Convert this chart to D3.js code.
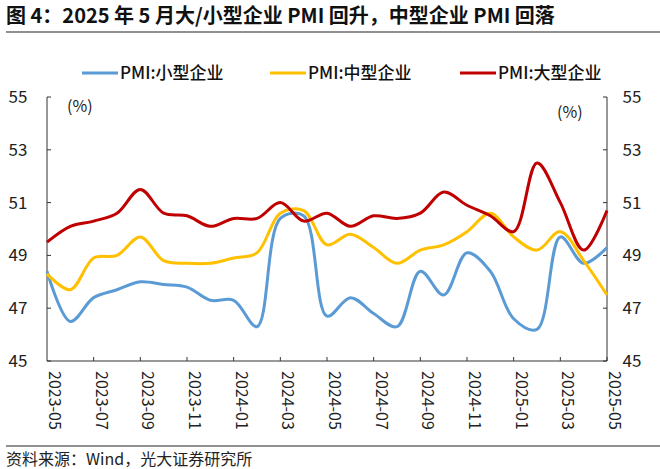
<!DOCTYPE html>
<html><head><meta charset="utf-8">
<script src="https://cdn.jsdelivr.net/npm/d3@7"></script>
<style>
body{margin:0;background:#fff;font-family:"Noto Sans CJK SC","Noto Sans",sans-serif;}
</style></head>
<body><div id="chart"></div>
<script>
const w = 660, h = 469;
const padL = 47, padR = 607, padT = 97, padB = 361;

const months = ["2023-05","2023-06","2023-07","2023-08","2023-09","2023-10","2023-11","2023-12",
"2024-01","2024-02","2024-03","2024-04","2024-05","2024-06","2024-07","2024-08","2024-09","2024-10",
"2024-11","2024-12","2025-01","2025-02","2025-03","2025-04","2025-05"];
const small = [48.4,46.5,47.4,47.7,48.0,47.9,47.8,47.3,47.3,46.3,50.4,50.5,46.7,47.4,46.8,46.3,48.4,47.5,49.1,48.4,46.6,46.2,49.7,48.7,49.3];
const medium = [48.3,47.7,48.9,49.0,49.7,48.8,48.7,48.7,48.9,49.1,50.6,50.7,49.4,49.8,49.3,48.7,49.2,49.4,49.9,50.6,49.7,49.2,49.9,48.8,47.5];
const large = [49.5,50.1,50.3,50.6,51.5,50.6,50.5,50.1,50.4,50.4,51.0,50.3,50.6,50.1,50.5,50.4,50.6,51.4,50.9,50.5,49.9,52.5,51.0,49.2,50.7];
const yTicks = [45,47,49,51,53,55];
const series = [
  {name:"PMI:小型企业", values:small, color:"#5b9bd5"},
  {name:"PMI:中型企业", values:medium, color:"#ffc000"},
  {name:"PMI:大型企业", values:large, color:"#c00000"}
];

const svg = d3.select("#chart").append("svg").attr("width",w).attr("height",h);

//Title
svg.append("text").attr("x",6).attr("y",23)
.style("font-size","20px").style("font-weight","bold").attr("fill","#111")
.text("图 4：2025 年 5 月大/小型企业 PMI 回升，中型企业 PMI 回落");
svg.append("line").attr("x1",6).attr("x2",w).attr("y1",32).attr("y2",32)
.attr("stroke","#222").attr("stroke-width",1.2);

//Scales
const x = d3.scalePoint().domain(months).range([padL,padR]);
const y = d3.scaleLinear().domain([45,55]).range([padB,padT]);

//Axes
svg.append("line").attr("x1",padL).attr("x2",padL).attr("y1",padT).attr("y2",padB).attr("stroke","#333");
svg.append("line").attr("x1",padR).attr("x2",padR).attr("y1",padT).attr("y2",padB).attr("stroke","#333");
svg.append("line").attr("x1",padL).attr("x2",padR).attr("y1",padB).attr("y2",padB).attr("stroke","#333");
yTicks.forEach(t => {
  svg.append("line").attr("x1",padL).attr("x2",padL+4).attr("y1",y(t)).attr("y2",y(t)).attr("stroke","#333");
  svg.append("line").attr("x1",padR-4).attr("x2",padR).attr("y1",y(t)).attr("y2",y(t)).attr("stroke","#333");
  svg.append("text").attr("x",18).attr("y",y(t)+6).attr("text-anchor","middle").style("font-size","17px").attr("fill","#222").text(t);
  svg.append("text").attr("x",632).attr("y",y(t)+6).attr("text-anchor","middle").style("font-size","17px").attr("fill","#222").text(t);
});
months.forEach((m,i) => {
  if(i%2) return;
  const px = x(m);
  if(i>0) svg.append("line").attr("x1",px).attr("x2",px).attr("y1",padB).attr("y2",padB-4).attr("stroke","#333");
  svg.append("text").attr("transform",`translate(${px+2},${padB+10}) rotate(90)`)
  .style("font-size","16px").attr("fill","#222").text(m);
});
svg.append("text").attr("x",67).attr("y",112).style("font-size","16px").attr("fill","#222").text("(%)");
svg.append("text").attr("x",557).attr("y",118).style("font-size","16px").attr("fill","#222").text("(%)");

//Lines
const line = d3.line().x((d,i)=>x(months[i])).y(d=>y(d)).curve(d3.curveCatmullRom.alpha(0.5));
series.forEach(s => {
  svg.append("path").attr("d",line(s.values)).attr("fill","none")
  .attr("stroke",s.color).attr("stroke-width",3);
});

//Legend
const lx = [82,270,460];
series.forEach((s,i) => {
  svg.append("line").attr("x1",lx[i]).attr("x2",lx[i]+36).attr("y1",73).attr("y2",73)
  .attr("stroke",s.color).attr("stroke-width",3);
  svg.append("text").attr("x",lx[i]+38).attr("y",79).style("font-size","17px").style("font-weight","500").attr("fill","#111").text(s.name);
});

//Source
svg.append("line").attr("x1",6).attr("x2",w).attr("y1",446).attr("y2",446).attr("stroke","#222");
svg.append("text").attr("x",6).attr("y",465).style("font-size","16px").attr("fill","#222").text("资料来源：Wind，光大证券研究所");
</script>
</body></html>
